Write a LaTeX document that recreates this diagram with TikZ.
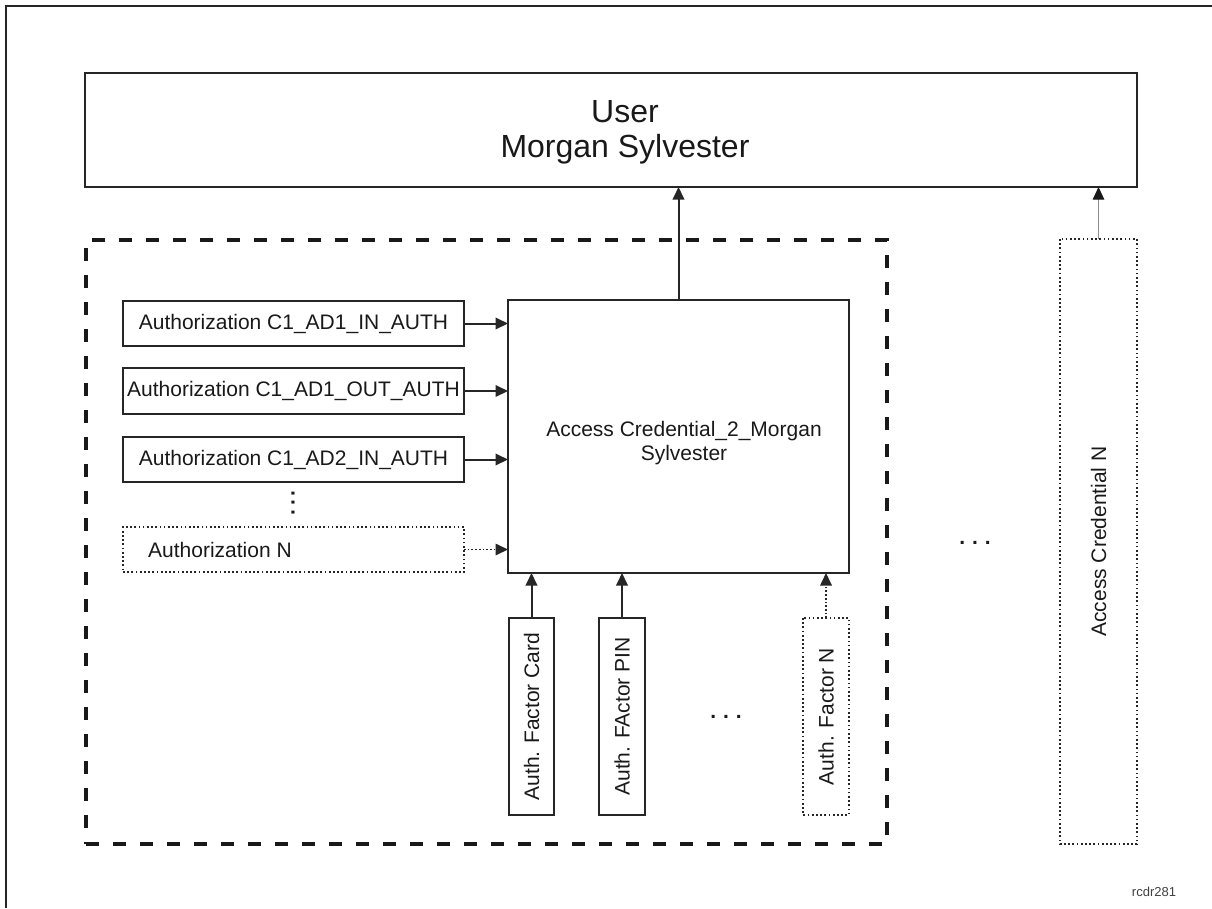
\documentclass[tikz,border=0pt]{standalone}
\usepackage{fontspec}
\setmainfont{Liberation Sans}
\usetikzlibrary{arrows.meta}
\begin{document}
\begin{tikzpicture}[x=1pt,y=-1pt,
  box/.style={draw=black!85, line width=2pt, inner sep=0pt, outer sep=0pt},
  dotbox/.style={draw=black!85, line width=1.7pt, dash pattern=on 1.7pt off 2.5pt, inner sep=0pt, outer sep=0pt},
  groupbox/.style={draw=black!90, line width=3.4pt, dash pattern=on 13pt off 14pt, inner sep=0pt},
  txt/.style={font=\fontsize{21}{24}\selectfont, text=black!90},
  dotstxt/.style={font=\fontsize{21}{24}\selectfont\bfseries, text=black!90, inner sep=0pt},
  bigtxt/.style={font=\fontsize{32}{35}\selectfont, text=black!90, align=center},
  conn/.style={draw=black!85, line width=2pt, -{Triangle[length=12.5pt,width=11.5pt]}},
  dotconn/.style={draw=black!85, line width=1.7pt, dash pattern=on 1.7pt off 2pt, -{Triangle[length=12.5pt,width=11.5pt]}},
  thinconn/.style={draw=black!45, line width=1pt, -{Triangle[length=12.5pt,width=11.5pt,black!90]}},
]
\useasboundingbox (0,0) rectangle (1212,908);
% page frame (top and left only)
\draw[line width=2.5pt, black!85] (6,908) -- (6,6) -- (1212,6);

% user
\node[box, minimum width=1052pt, minimum height=114pt] (user) at (611,130) {};
\node[bigtxt] (userlabel) at (625,132) {User\\Morgan Sylvester};

% group
\node[groupbox, minimum width=801pt, minimum height=604pt] (group) at (486.5,542) {};

% authorizations
\node[box, txt, minimum width=341pt, minimum height=45pt] (a1) at (293.5,323.5) {Authorization C1\_AD1\_IN\_AUTH};
\node[box, txt, minimum width=341pt, minimum height=46pt] (a2) at (293.5,391) {Authorization C1\_AD1\_OUT\_AUTH};
\node[box, txt, minimum width=341pt, minimum height=45pt] (a3) at (293.5,459.5) {Authorization C1\_AD2\_IN\_AUTH};
\node[dotbox, minimum width=341pt, minimum height=45pt] (an) at (293.5,549.5) {};
\node[txt, anchor=west, inner sep=0pt] (anlabel) at (148,549.5) {Authorization N};
\node[dotstxt, rotate=90] (vdots) at (293,503) {.\,.\,.};

% credential
\node[box, minimum width=341pt, minimum height=273pt] (cred) at (678.5,436.5) {};
\node[txt, align=center] (credlabel) at (684,443) {Access Credential\_2\_Morgan\\Sylvester};

% factors
\node[box, txt, rotate=90, minimum width=197pt, minimum height=45pt] (card) at (531.5,716.5) {Auth. Factor Card};
\node[box, txt, rotate=90, minimum width=197pt, minimum height=46pt] (pin) at (622,716.5) {Auth. FActor PIN};
\node[dotbox, txt, rotate=90, minimum width=197pt, minimum height=46pt] (fn) at (826,716.5) {Auth. Factor N};
\node[dotstxt] (fdots) at (726,717) {.\,\,.\,\,.};

% access credential N
\node[dotbox, txt, rotate=90, minimum width=605pt, minimum height=77pt] (acn) at (1098.5,541.5) {Access Credential N};
\node[dotstxt] (cdots) at (975,543) {.\,\,.\,\,.};

% footer
\node[font=\fontsize{13}{15}\selectfont, text=black!75, inner sep=0pt] (code) at (1154,892) {rcdr281};

% connectors
\draw[conn] (a1.east) -- (a1.east -| cred.west);
\draw[conn] (a2.east) -- (a2.east -| cred.west);
\draw[conn] (a3.east) -- (a3.east -| cred.west);
\draw[dotconn] (an.east) -- (an.east -| cred.west);
\draw[conn] (card.east) -- (card.east |- cred.south);
\draw[conn] (pin.east) -- (pin.east |- cred.south);
\draw[dotconn] (fn.east) -- (fn.east |- cred.south);
\draw[conn] (cred.north) -- (cred.north |- user.south);
\draw[thinconn] (acn.east) -- (acn.east |- user.south);
\end{tikzpicture}
\end{document}
